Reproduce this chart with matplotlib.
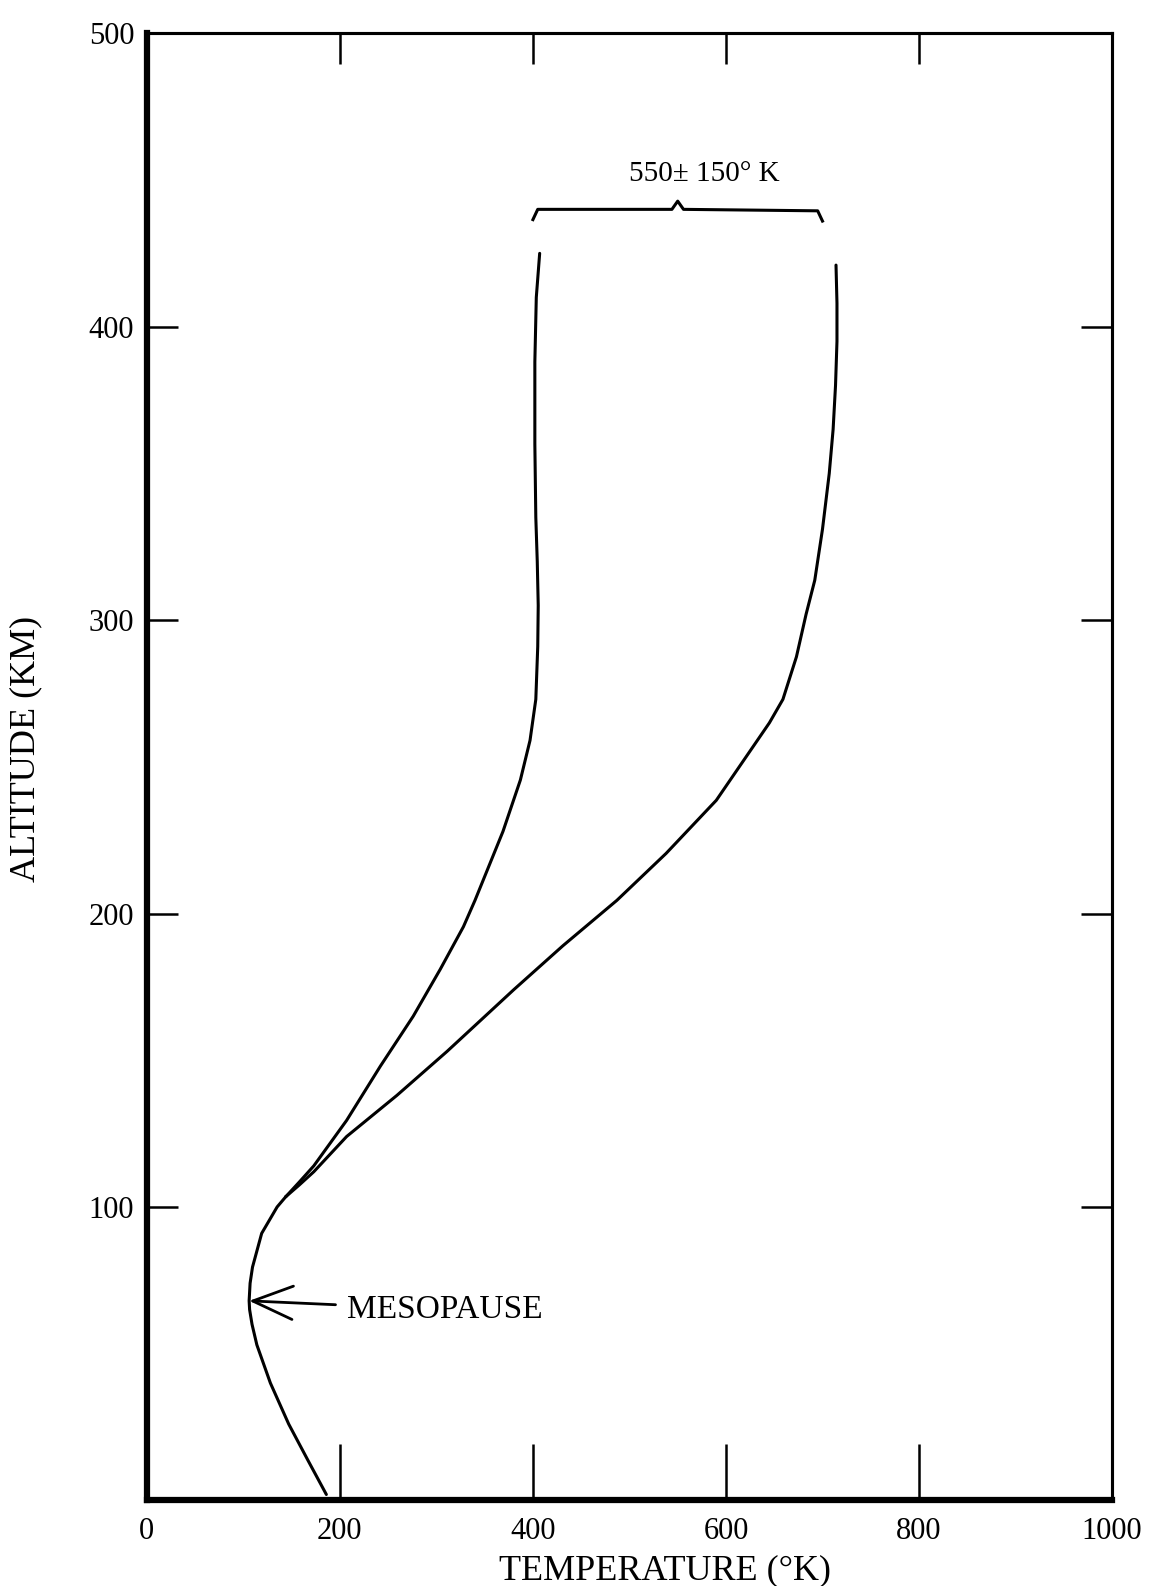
import numpy as np
import matplotlib
matplotlib.use("Agg")
import matplotlib.pyplot as plt

# Temperature profile (deg K) against altitude (km)
# shared lower part, up to where the two branches separate
lower_T = [186, 167, 147, 128, 114, 109, 106.5, 106, 107, 109.5, 119, 135, 144]
lower_alt = [2, 13.6, 26, 40, 53, 60, 65, 68, 74, 79.5, 91, 100, 103.5]

# cool branch (lower limit of exospheric temperature)
cool_T = [144, 158, 173, 207, 242, 276, 304, 328, 340, 369, 387, 397, 403,
          405, 405.5, 404.5, 403, 402, 402, 403.5, 407]
cool_alt = [103.5, 108.5, 114, 129.5, 148, 165, 181, 195.5, 204.5, 228, 245.5,
            259, 273, 291, 305, 320, 335, 360, 388, 410, 425]

# hot branch (upper limit)
hot_T = [144, 158, 173, 207, 259, 311, 380, 431, 487, 538, 590, 645, 659,
         673, 683, 692, 700, 707, 711, 713.5, 715, 715, 714]
hot_alt = [103.5, 107.5, 112, 124, 138, 153, 174, 189, 204.5, 220.5, 238.6,
           265, 273, 287.5, 302, 313.6, 331, 350, 365, 380, 395, 408, 421]

mesopause_T, mesopause_alt = 106, 68
exo_mid, exo_spread = 550, 150

x_ticks = [0, 200, 400, 600, 800, 1000]
y_ticks = [100, 200, 300, 400, 500]

serif = "Liberation Serif"

fig = plt.figure(figsize=(11.56, 15.86), dpi=100)
ax = fig.add_axes([0.127, 0.054, 0.835, 0.925])
ax.set_xlim(0, 1000)
ax.set_ylim(0, 500)

lw = 2.2
for T, alt in [(lower_T, lower_alt), (cool_T, cool_alt), (hot_T, hot_alt)]:
    ax.plot(T, alt, color="black", lw=lw, solid_capstyle="round",
            solid_joinstyle="round")

# brace spanning 550 +/- 150
lo, hi = exo_mid - exo_spread, exo_mid + exo_spread
bx = [lo, lo + 5, exo_mid - 6, exo_mid, exo_mid + 6, hi - 5, hi]
by = [436.5, 440, 440, 442.8, 440, 439.5, 436]
ax.plot(bx, by, color="black", lw=2.2, solid_joinstyle="round")
ax.text(exo_mid + 28, 452, "550\u00b1 150\u00b0 K", ha="center", va="center",
        fontsize=21, family=serif)

ax.annotate("MESOPAUSE", xy=(mesopause_T, mesopause_alt), xytext=(207, 65),
            fontsize=24, family=serif, va="center", ha="left",
            arrowprops=dict(arrowstyle="->,head_length=1.2,head_width=0.5",
                            color="black", lw=2, shrinkA=6, shrinkB=0))

# frame: heavy left/bottom, lighter top/right
for side, w in [("left", 4.5), ("bottom", 4.5), ("top", 2.2), ("right", 2.2)]:
    ax.spines[side].set_linewidth(w)

ax.set_xticks(x_ticks)
ax.set_yticks(y_ticks)
ax.tick_params(axis="x", direction="in", length=40, width=1.8, pad=12,
               labelsize=22)
ax.tick_params(axis="y", direction="in", length=22, width=1.8, pad=9,
               labelsize=22)
for lab in ax.get_xticklabels() + ax.get_yticklabels():
    lab.set_family(serif)

top = ax.secondary_xaxis("top")
top.set_xticks(x_ticks[1:-1])
top.tick_params(direction="in", length=22, width=1.8, labeltop=False)
top.spines["top"].set_linewidth(2.2)
right = ax.secondary_yaxis("right")
right.set_yticks(y_ticks[:-1])
right.tick_params(direction="in", length=22, width=1.8, labelright=False)
right.spines["right"].set_linewidth(2.2)

ax.set_xlabel("TEMPERATURE (\u00b0K)", fontsize=26, family=serif)
ax.set_ylabel("ALTITUDE (KM)", fontsize=26, family=serif)
ax.xaxis.set_label_coords(0.537, -0.037)
ax.yaxis.set_label_coords(-0.108, 0.512)

fig.savefig("out.png", dpi=100, facecolor="white")
